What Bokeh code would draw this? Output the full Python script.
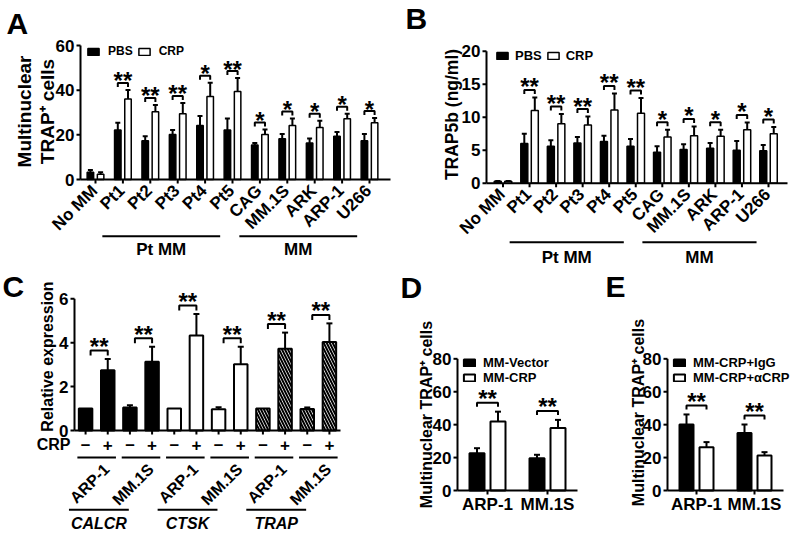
import math
from bokeh.plotting import figure
from bokeh.models import Range1d, Legend, LegendItem, ColumnDataSource, Whisker, TeeHead
from bokeh.embed import file_html
from bokeh.resources import INLINE
from bokeh.core.properties import value

FONT = "Liberation Sans"
W, H = 796, 534

# ---------------- data ----------------
A_CATS = ["No MM", "Pt1", "Pt2", "Pt3", "Pt4", "Pt5", "CAG", "MM.1S", "ARK", "ARP-1", "U266"]
A_PBS = [3.3, 22.2, 17.3, 20.1, 24.2, 22.2, 15.5, 18.2, 16.3, 19.4, 17.3]
A_PBS_ERR = [1.0, 3.2, 2.1, 2.1, 4.2, 5.1, 0.8, 2.2, 2.1, 1.9, 3.1]
A_CRP = [2.4, 36.0, 30.3, 29.4, 37.2, 39.4, 20.1, 24.2, 23.3, 27.2, 25.4]
A_CRP_ERR = [0.8, 4.1, 3.1, 4.9, 6.1, 6.0, 2.3, 3.1, 3.0, 2.2, 2.1]
A_SIG = ["", "**", "**", "**", "*", "**", "*", "*", "*", "*", "*"]
A_TICKS = [0, 20, 40, 60]

B_CATS = A_CATS
B_PBS = [0.3, 6.0, 5.6, 6.1, 6.3, 5.6, 4.7, 5.1, 5.3, 5.0, 4.9]
B_PBS_ERR = [0.05, 1.5, 0.9, 0.9, 0.9, 1.1, 0.9, 0.8, 0.8, 1.4, 0.9]
B_CRP = [0.3, 11.0, 9.0, 8.8, 11.1, 10.6, 7.0, 7.2, 7.1, 8.1, 7.5]
B_CRP_ERR = [0.05, 2.0, 1.5, 1.3, 2.5, 2.3, 1.1, 1.4, 1.0, 1.1, 1.0]
B_SIG = ["", "**", "**", "**", "**", "**", "*", "*", "*", "*", "*"]
B_TICKS = [0, 5, 10, 15, 20]

SERIES = ["PBS", "CRP"]
GROUPS = ["Pt MM", "MM"]
GROUP_FIRST = [1, 6]
GROUP_LAST = [5, 10]

C_GENES = ["CALCR", "CTSK", "TRAP"]
C_LINES = ["ARP-1", "MM.1S"]
C_CRP = ["\u2013", "+"]
C_VALS = [1.0, 2.74, 1.05, 3.13, 1.0, 4.33, 0.97, 3.02, 1.0, 3.72, 0.98, 4.03]
C_ERR = [0.0, 0.52, 0.1, 0.68, 0.0, 0.98, 0.09, 0.8, 0.0, 0.74, 0.07, 0.85]
C_SIG = ["**", "**", "**", "**", "**", "**"]
C_TICKS = [0, 2, 4, 6]

D_CATS = ["ARP-1", "MM.1S"]
D_SERIES = ["MM-Vector", "MM-CRP"]
D_VEC = [22.7, 19.6]
D_VEC_ERR = [3.0, 2.1]
D_CRP = [41.9, 37.9]
D_CRP_ERR = [6.0, 5.0]
D_SIG = ["**", "**"]

E_CATS = ["ARP-1", "MM.1S"]
E_SERIES = ["MM-CRP+IgG", "MM-CRP+\u03b1CRP"]
E_IGG = [40.1, 35.0]
E_IGG_ERR = [6.1, 5.1]
E_ACRP = [26.3, 21.3]
E_ACRP_ERR = [3.1, 2.0]
E_SIG = ["**", "**"]
DE_TICKS = [0, 20, 40, 60, 80]

PANEL_LETTERS = ["A", "B", "C", "D", "E"]

# ---------------- figure (one canvas, one scale pair per panel) ----------------
p = figure(width=W, height=H, x_range=Range1d(0, W), y_range=Range1d(H, 0),
           min_border=0, x_axis_location=None, y_axis_location=None,
           output_backend="svg", toolbar_location=None)
p.outline_line_color = None
p.grid.visible = False
p.background_fill_color = "white"
p.border_fill_color = "white"

XR, YR = {}, {}


class Panel:
    """Linear scales of one panel: data value <-> page pixel."""
    def __init__(s, name, x0, xp, y0, yp):
        s.x0, s.xp, s.y0, s.yp = x0, xp, y0, yp
        s.xn, s.yn = name + "_x", name + "_y"
        XR[s.xn] = Range1d(s.X(0), s.X(W))
        YR[s.yn] = Range1d(s.Y(H), s.Y(0))

    def X(s, px):
        return (px - s.x0) / s.xp

    def Y(s, py):
        return (s.y0 - py) / s.yp

    def dx(s, n):
        return n / s.xp

    def dy(s, n):
        return n / s.yp

    def kw(s):
        return dict(x_range_name=s.xn, y_range_name=s.yn)


class Page:
    def kw(s):
        return {}


PA = Panel("A", 95, 27.4, 179, 134 / 60)
PB = Panel("B", 502.5, 26.55, 182.7, 6.6)
PC = Panel("C", 74, 266 / 12, 430, 21.95)
PD = Panel("D", 457, 60, 490, 1.646)
PE = Panel("E", 667, 58, 490, 1.646)
PG = Page()
p.extra_x_ranges = XR
p.extra_y_ranges = YR


def txt(P, xs, ys, texts, size, align="center", baseline="middle", angle=0.0,
        style="bold", lh=1.2):
    p.text(xs, ys, text=texts, angle=angle, text_align=align, text_baseline=baseline,
           text_font=value(FONT), text_font_style=style, text_font_size=size,
           text_color="black", text_line_height=lh, **P.kw())


def yaxis(P, ticks, axis_px, label, lx, ly, size, lh=1.2):
    ax = P.X(axis_px)
    n = len(ticks)
    p.segment(x0=[ax], y0=[ticks[0]], x1=[ax], y1=[ticks[-1]], line_color="black",
              line_width=2, **P.kw())
    p.segment(x0=[ax] * n, y0=ticks, x1=[P.X(axis_px - 4)] * n, y1=ticks,
              line_color="black", line_width=2, **P.kw())
    txt(P, [P.X(axis_px - 6)] * n, ticks, [str(t) for t in ticks], "17px", align="right")
    txt(P, [P.X(lx)], [P.Y(ly)], [label], size, angle=math.pi / 2, lh=lh)


def xbase(P, left_px, right_px, ticks_x):
    n = len(ticks_x)
    p.segment(x0=[P.X(left_px)], y0=[0], x1=[P.X(right_px)], y1=[0], line_color="black",
              line_width=2, **P.kw())
    p.segment(x0=ticks_x, y0=[0] * n, x1=ticks_x, y1=[-P.dy(4)] * n, line_color="black",
              line_width=2, **P.kw())


def grouped_bars(P, centers, v1, e1, v2, e2, bar_px, off_px, lw, cap_px):
    w = P.dx(bar_px)
    off = P.dx(off_px)
    x1 = [c - off for c in centers]
    x2 = [c + off for c in centers]
    s1 = ColumnDataSource(dict(x=x1, top=v1, up=[v + e for v, e in zip(v1, e1)]))
    s2 = ColumnDataSource(dict(x=x2, top=v2, up=[v + e for v, e in zip(v2, e2)]))
    r1 = p.vbar(x="x", top="top", width=w, source=s1, fill_color="black",
                line_color="black", line_width=lw, **P.kw())
    r2 = p.vbar(x="x", top="top", width=w, source=s2, fill_color="white",
                line_color="black", line_width=lw, **P.kw())
    for s in (s1, s2):
        p.add_layout(Whisker(source=s, base="x", lower="top", upper="up", dimension="height",
                             line_color="black", line_width=2, lower_head=None,
                             upper_head=TeeHead(size=cap_px, line_color="black", line_width=2),
                             **P.kw()))
    ups = [max(a + b, c + d) for a, b, c, d in zip(v1, e1, v2, e2)]
    return r1, r2, x1, x2, ups


def brackets(P, xl, xr, tops, sig, gap_px, tick_px, star_px, size="24px"):
    # star_px: height of the star centre above the bracket line
    xs, ys, tx, ty, tt = [], [], [], [], []
    for a, b, t, s in zip(xl, xr, tops, sig):
        if not s:
            continue
        by = t + P.dy(gap_px)
        xs.append([a, a, b, b])
        ys.append([by - P.dy(tick_px), by, by, by - P.dy(tick_px)])
        tx.append((a + b) / 2)
        ty.append(by + P.dy(star_px - 5))
        tt.append(s)
    p.multi_line(xs, ys, line_color="black", line_width=2, **P.kw())
    txt(P, tx, ty, tt, size)


def legend(r1, r2, labels, left, top, orient, size, label_h, standoff, spacing):
    n_rows = 2 if orient == "vertical" else 1
    leg = Legend(items=[LegendItem(label=labels[0], renderers=[r1]),
                        LegendItem(label=labels[1], renderers=[r2])],
                 orientation=orient, location=(left, H - (top + n_rows * label_h)),
                 glyph_width=14, glyph_height=9, label_standoff=standoff, spacing=spacing,
                 padding=0, margin=0, border_line_color=None, background_fill_alpha=0,
                 label_text_font=FONT, label_text_font_style="bold",
                 label_text_color="black",
                 label_text_font_size=size, label_height=int(label_h), label_width=10)
    p.add_layout(leg)


def cat_axis(P, cats, axis_px, right_px, line_px, label_px):
    n = len(cats)
    xbase(P, axis_px, right_px, list(range(n)))
    txt(P, [i - P.dx(1) for i in range(n)], [P.Y(P.y0 + 8.5)] * n, cats, "17px",
        align="right", angle=math.pi / 4)
    gx0 = [f - 0.75 for f in GROUP_FIRST]
    gx1 = [l - 0.45 for l in GROUP_LAST]
    ly = P.Y(P.y0 + line_px)
    p.segment(x0=gx0, y0=[ly] * len(gx0), x1=gx1, y1=[ly] * len(gx0),
              line_color="black", line_width=2, **P.kw())
    txt(P, [(a + b) / 2 for a, b in zip(gx0, gx1)], [P.Y(P.y0 + label_px)] * len(gx0),
        GROUPS, "17px")


# ---------------- panel A ----------------
yaxis(PA, A_TICKS, 80, "Multinuclear\nTRAP\u207a cells", 35.5, 111, "19px", 1.14)
rA1, rA2, xa1, xa2, upA = grouped_bars(PA, list(range(len(A_CATS))), A_PBS, A_PBS_ERR,
                                       A_CRP, A_CRP_ERR, 6.5, 5.1, 1.5, 5)
brackets(PA, xa1, xa2, upA, A_SIG, 7, 4, 7)
cat_axis(PA, A_CATS, 80, 390, 56.7, 70)
legend(rA1, rA2, SERIES, 86, 45, "horizontal", "12px", 13.4, 8, 4)

# ---------------- panel B ----------------
yaxis(PB, B_TICKS, 486, "TRAP5b (ng/ml)", 451.5, 114, "17.5px")
rB1, rB2, xb1, xb2, upB = grouped_bars(PB, list(range(len(B_CATS))), B_PBS, B_PBS_ERR,
                                       B_CRP, B_CRP_ERR, 7, 5.25, 1.5, 5)
brackets(PB, xb1, xb2, upB, B_SIG, 7.5, 4, 8)
cat_axis(PB, B_CATS, 486, 787, 59, 74.3)
legend(rB1, rB2, SERIES, 495, 48, "horizontal", "13px", 14.5, 6, 4)

# ---------------- panel C ----------------
yaxis(PC, C_TICKS, 74, "Relative expression", 46.5, 356, "16px")
nC = len(C_VALS)
per_gene = 2 * len(C_LINES)
xc = [i + 0.5 for i in range(nC)]
fills = ["black" if i // per_gene == 0 else "white" for i in range(nC)]
pats = ["\\" if i // per_gene == 2 else " " for i in range(nC)]
srcC = ColumnDataSource(dict(x=xc, top=C_VALS, fc=fills, pat=pats))
p.vbar(x="x", top="top", width=PC.dx(13.5), source=srcC, fill_color="fc",
       line_color="black", line_width=2, hatch_pattern="pat", hatch_color="black",
       hatch_scale=6, hatch_weight=2, **PC.kw())
eidx = [i for i in range(nC) if C_ERR[i] > 0]
srcCe = ColumnDataSource(dict(x=[xc[i] for i in eidx], top=[C_VALS[i] for i in eidx],
                              up=[C_VALS[i] + C_ERR[i] for i in eidx]))
p.add_layout(Whisker(source=srcCe, base="x", lower="top", upper="up", dimension="height",
                     line_color="black", line_width=2, lower_head=None,
                     upper_head=TeeHead(size=6, line_color="black", line_width=2), **PC.kw()))
npair = nC // 2
cl = [xc[2 * k] + PC.dx(5) for k in range(npair)]
cr = [xc[2 * k + 1] for k in range(npair)]
ctop = [max(C_VALS[2 * k] + C_ERR[2 * k], C_VALS[2 * k + 1] + C_ERR[2 * k + 1])
        for k in range(npair)]
brackets(PC, cl, cr, ctop, C_SIG, 8.5, 5, 9)
xbase(PC, 74, 340, xc)
txt(PC, xc, [PC.Y(444)] * nC, [C_CRP[i % 2] for i in range(nC)], "17px")
txt(PC, [PC.X(70)], [PC.Y(444)], ["CRP"], "16px", align="right")
pl = PC.Y(457)
p.segment(x0=[2 * k + 0.13 for k in range(npair)], y0=[pl] * npair,
          x1=[2 * k + 1.87 for k in range(npair)], y1=[pl] * npair,
          line_color="black", line_width=2, **PC.kw())
txt(PC, [2 * k + 1 + PC.dx(10) for k in range(npair)], [PC.Y(466)] * npair,
    [C_LINES[k % 2] for k in range(npair)], "16px", align="right", angle=math.pi / 4)
ng = len(C_GENES)
gl = PC.Y(509.3)
gx0 = [per_gene * k - 0.25 for k in range(ng)]
gx1 = [per_gene * k + 2.45 for k in range(ng)]
p.segment(x0=gx0, y0=[gl] * ng, x1=gx1, y1=[gl] * ng, line_color="black", line_width=2,
          **PC.kw())
txt(PC, [(a + b) / 2 for a, b in zip(gx0, gx1)], [PC.Y(523)] * ng, C_GENES, "16px",
    style="bold italic")

# ---------------- panel D ----------------
yaxis(PD, DE_TICKS, 457, "Multinuclear TRAP\u207a cells", 425.5, 414, "16px")
cD = [i + 0.5 for i in range(len(D_CATS))]
rD1, rD2, xd1, xd2, upD = grouped_bars(PD, cD, D_VEC, D_VEC_ERR, D_CRP, D_CRP_ERR,
                                       15, 10.5, 2, 6)
brackets(PD, xd1, xd2, upD, D_SIG, 9, 4, 9)
xbase(PD, 457, 577, cD)
txt(PD, cD, [PD.Y(504)] * len(cD), D_CATS, "17px")
legend(rD1, rD2, D_SERIES, 462, 356, "vertical", "13px", 14.5, 7, 0)

# ---------------- panel E ----------------
yaxis(PE, DE_TICKS, 667, "Multinuclear TRAP\u207a cells", 638, 412, "16px")
cE = [i + 0.5 for i in range(len(E_CATS))]
rE1, rE2, xe1, xe2, upE = grouped_bars(PE, cE, E_IGG, E_IGG_ERR, E_ACRP, E_ACRP_ERR,
                                       14, 10, 2, 6)
brackets(PE, xe1, xe2, upE, E_SIG, 9, 4, 9)
xbase(PE, 667, 783, cE)
txt(PE, cE, [PE.Y(504)] * len(cE), E_CATS, "17px")
legend(rE1, rE2, E_SERIES, 672, 356, "vertical", "13px", 14.5, 7, 0)

# ---------------- panel letters ----------------
txt(PG, [6, 405, 2, 400, 605], [22.5, 18, 286, 286.5, 286], PANEL_LETTERS, "30px",
    align="left")

with open("out.html", "w") as f:
    f.write(file_html(p, INLINE, "chart"))
